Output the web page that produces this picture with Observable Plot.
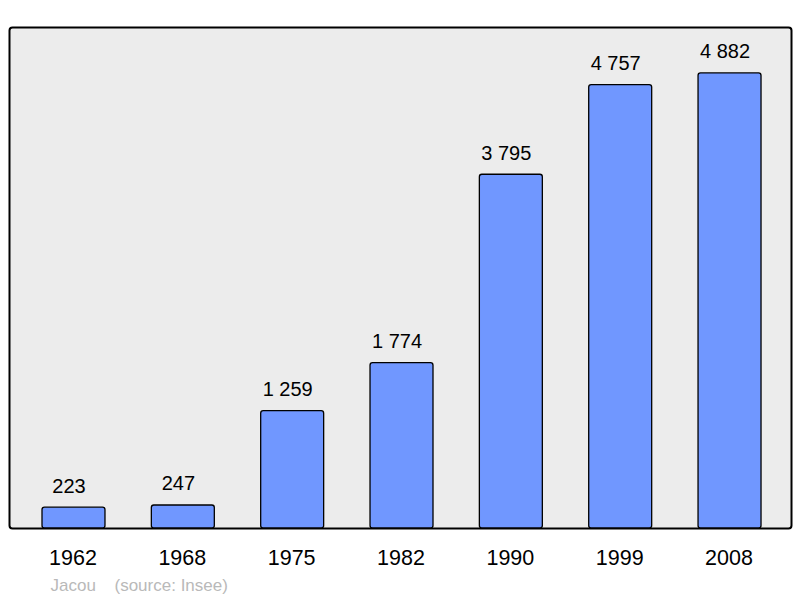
<!DOCTYPE html>
<html>
<head>
<meta charset="utf-8">
<script src="https://cdn.jsdelivr.net/npm/d3@7"></script>
<script src="https://cdn.jsdelivr.net/npm/@observablehq/plot@0.6"></script>
<style>
  html, body { margin: 0; padding: 0; background: #fff; }
  #chart svg { display: block; }
</style>
</head>
<body>
<div id="chart"></div>
<script>
const years = ["1962", "1968", "1975", "1982", "1990", "1999", "2008"];
const population = [223, 247, 1259, 1774, 3795, 4757, 4882];
const place = "Jacou";
const source = "(source: Insee)";

const data = years.map((year, i) => ({year, value: population[i]}));
const fmt = d3.formatLocale({thousands: "\u00a0", grouping: [3], decimal: ",", currency: ["", ""]}).format(",d");

const chart = Plot.plot({
  width: 800,
  height: 598,
  marginTop: 27,
  marginBottom: 70,
  marginLeft: 9,
  marginRight: 9,
  style: {fontFamily: "'Liberation Sans', Arial, sans-serif", color: "#000", background: "#fff"},
  x: {domain: years, paddingInner: 0.424, paddingOuter: 0.288, align: 0.524, round: false, axis: null, label: null},
  y: {domain: [0, 5375], axis: null},
  marks: [
    Plot.frame({fill: "#ececec", stroke: "#000", strokeWidth: 2, rx: 3}),
    Plot.barY(data, {x: "year", y: "value", fill: "#7097ff", stroke: "#000", strokeWidth: 1.3, rx: 2.5}),
    Plot.text(data, {x: "year", y: "value", text: d => fmt(d.value), dx: -5, dy: -15, lineAnchor: "bottom", fontSize: 20, fill: "#000"}),
    Plot.axisX({fontSize: 21.5, tickSize: 0, tickPadding: 21, dx: -1, fill: "#000", label: null}),
    Plot.text([place], {frameAnchor: "bottom-left", text: d => d, dx: 41, dy: 62, lineAnchor: "bottom", textAnchor: "start", fontSize: 17, fill: "#b9b9b9"}),
    Plot.text([source], {frameAnchor: "bottom-left", text: d => d, dx: 105, dy: 62, lineAnchor: "bottom", textAnchor: "start", fontSize: 17, fill: "#b9b9b9"})
  ]
});
document.getElementById("chart").append(chart);
</script>
</body>
</html>
